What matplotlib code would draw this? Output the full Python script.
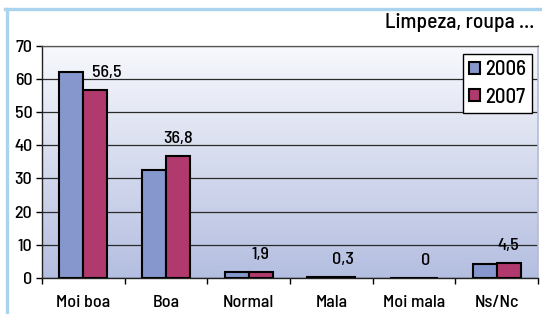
import matplotlib
matplotlib.use("Agg")
import matplotlib.pyplot as plt
import numpy as np
from matplotlib.patches import Patch
from matplotlib.lines import Line2D

plt.rcParams['font.family'] = ['Barlow Semi Condensed', 'DejaVu Sans']
plt.rcParams['font.weight'] = 'medium'

categories = ["Moi boa", "Boa", "Normal", "Mala", "Moi mala", "Ns/Nc"]
series_names = ["2006", "2007"]
values_2006 = [62.0, 32.5, 1.8, 0.3, 0.0, 4.2]
values_2007 = [56.5, 36.8, 1.9, 0.3, 0.0, 4.5]
label_texts = ["56,5", "36,8", "1,9", "0,3", "0", "4,5"]
yticks = [0, 10, 20, 30, 40, 50, 60, 70]
title = "Limpeza, roupa ..."

c2006 = "#8597cc"
c2007 = "#b0396d"

W, H = 542, 314
fig = plt.figure(figsize=(W / 100, H / 100), dpi=100)
fig.patch.set_facecolor("white")

blue = "#a9d3ee"
fig.add_artist(Line2D([6.5 / W, 6.5 / W], [0, 1 - 9 / H], transform=fig.transFigure, color=blue, lw=2.4))
fig.add_artist(Line2D([5.3 / W, 1], [1 - 9 / H, 1 - 9 / H], transform=fig.transFigure, color=blue, lw=2.4))

left, right, top, bottom = 42, 538, 45.5, 278
ax = fig.add_axes([left / W, 1 - bottom / H, (right - left) / W, (bottom - top) / H])

grad = np.linspace(0, 1, 256).reshape(-1, 1)
c_top = np.array([0xf8, 0xf9, 0xfd]) / 255
c_bot = np.array([0xb4, 0xbe, 0xe0]) / 255
img = c_top[None, None, :] * (1 - grad[:, :, None]) + c_bot[None, None, :] * grad[:, :, None]
ax.imshow(img, extent=[-0.5, 5.5, 0, 70], aspect="auto", zorder=0, origin="upper")

x = np.arange(len(categories))
bw = 0.29
ax.bar(x - bw / 2, values_2006, bw, color=c2006, edgecolor="black", linewidth=1.5, zorder=3)
ax.bar(x + bw / 2, values_2007, bw, color=c2007, edgecolor="black", linewidth=1.5, zorder=3)

for i, (v, t) in enumerate(zip(values_2007, label_texts)):
    dx = 8 if values_2006[i] > v + 2 else 0
    ax.annotate(t, (x[i] + bw / 2, v), xytext=(dx, 12.5), textcoords="offset points",
                ha="center", va="center", fontsize=13, color="black", zorder=5)

ax.set_xlim(-0.5, 5.5)
ax.set_ylim(0, 70)
ax.set_yticks(yticks)
ax.set_yticklabels([str(v) for v in yticks], fontsize=13)
ax.set_xticks(x)
ax.set_xticklabels(categories, fontsize=13)
ax.set_xticks(np.arange(-0.5, 5.6, 1), minor=True)
ax.tick_params(axis="x", which="major", length=0, pad=12)
ax.tick_params(axis="x", which="minor", length=4, width=1, direction="out", color="black")
ax.tick_params(axis="y", length=4, width=1, direction="out", pad=3, color="black")

ax.yaxis.grid(True, color="#2a2a2a", linewidth=0.9)
ax.set_axisbelow(True)
for s in ["left", "bottom"]:
    ax.spines[s].set_color("#222222")
    ax.spines[s].set_linewidth(1)
ax.spines["top"].set_color("#555555")
ax.spines["top"].set_linewidth(0.9)
ax.spines["right"].set_color("#b4bcd4")
ax.spines["right"].set_linewidth(1.2)

handles = [Patch(facecolor=c2006, edgecolor="black", linewidth=1.5),
           Patch(facecolor=c2007, edgecolor="black", linewidth=1.5)]
leg = ax.legend(handles, series_names, loc="upper right", bbox_to_anchor=(0.988, 0.963),
                borderaxespad=0, fontsize=15, handlelength=0.5, handleheight=0.5,
                handletextpad=0.25, labelspacing=0.4, borderpad=0.3, fancybox=False,
                framealpha=1, edgecolor="black")
leg.get_frame().set_linewidth(1)
leg.set_zorder(10)

fig.text(534 / W, 1 - 23 / H, title, ha="right", va="center", fontsize=15.5, color="black")

fig.savefig("out.png", dpi=100, facecolor="white")
